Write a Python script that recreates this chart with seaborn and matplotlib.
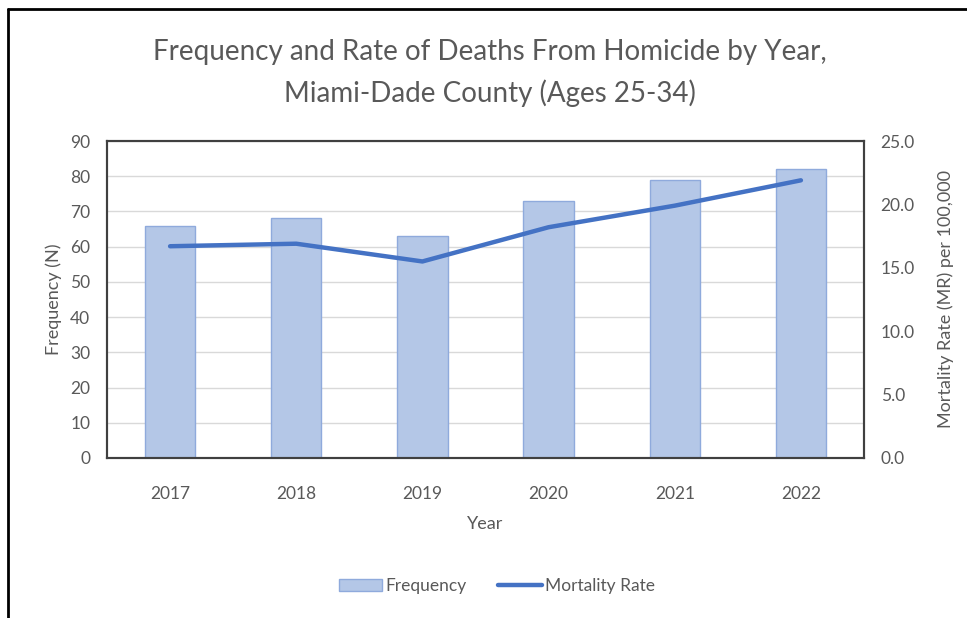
import matplotlib
matplotlib.use("Agg")
import matplotlib.pyplot as plt
import seaborn as sns
import pandas as pd
from matplotlib.patches import Patch
from matplotlib.lines import Line2D

years = ["2017", "2018", "2019", "2020", "2021", "2022"]
frequency = [66, 68, 63, 73, 79, 82]
mortality_rate = [16.7, 16.9, 15.5, 18.2, 19.9, 21.9]
left_ticks = [0, 10, 20, 30, 40, 50, 60, 70, 80, 90]
right_ticks = [0.0, 5.0, 10.0, 15.0, 20.0, 25.0]

title = "Frequency and Rate of Deaths From Homicide by Year,\nMiami-Dade County (Ages 25-34)"

sns.set_theme(style="white")
plt.rcParams["font.family"] = ["Lato", "DejaVu Sans"]

TEXT = "#595959"
BAR = "#B4C7E7"
BAR_EDGE = "#8FAADC"
LINE = "#4472C4"

df = pd.DataFrame({"Year": years, "Frequency": frequency, "Rate": mortality_rate})

fig = plt.figure(figsize=(9.67, 6.18), dpi=100)
ax = fig.add_axes([107 / 967, 1 - 458 / 618, (864 - 107) / 967, (458 - 141) / 618])

sns.barplot(data=df, x="Year", y="Frequency", ax=ax, color=BAR, edgecolor=BAR_EDGE,
            linewidth=1, width=0.4, saturation=1, zorder=2)
ax.set_ylim(0, 90)
ax.set_yticks(left_ticks)
ax.yaxis.grid(True, color="#D9D9D9", linewidth=1)
ax.set_axisbelow(True)

ax2 = ax.twinx()
sns.pointplot(data=df, x="Year", y="Rate", ax=ax2, color=LINE, markers="",
              linewidth=3.2, errorbar=None)
ax2.set_ylim(0, 25)
ax2.set_yticks(right_ticks)
ax2.set_yticklabels([f"{v:.1f}" for v in right_ticks])
ax.set_xlim(-0.5, 5.5)

for a in (ax, ax2):
    for s in a.spines.values():
        s.set_color("#404040")
        s.set_linewidth(1.5)
    a.tick_params(axis="y", length=0, labelsize=12.5, colors=TEXT, pad=12)
    a.tick_params(axis="x", length=0, labelsize=12.5, colors=TEXT, pad=20)

ax.set_xlabel("Year", fontsize=13, color=TEXT, labelpad=10)
ax.set_ylabel("Frequency (N)", fontsize=13, color=TEXT, labelpad=6)
ax2.set_ylabel("Mortality Rate (MR) per 100,000", fontsize=13, color=TEXT, labelpad=16)
ax2.grid(False)

fig.text(490 / 967, 1 - 73 / 618, title, ha="center", va="center", fontsize=20,
         color=TEXT, linespacing=1.6)

handles = [Patch(facecolor=BAR, edgecolor=BAR_EDGE, label="Frequency"),
           Line2D([0], [0], color=LINE, linewidth=3.2, label="Mortality Rate")]
leg = fig.legend(handles=handles, loc="center", bbox_to_anchor=(497 / 967, 1 - 586 / 618),
                 ncol=2, frameon=False, fontsize=12.5, handlelength=2.5, handletextpad=0.2,
                 columnspacing=1.8)
for t in leg.get_texts():
    t.set_color(TEXT)

# outer frame (top and left edges)
fig.add_artist(Line2D([8 / 967, 1], [1 - 9 / 618, 1 - 9 / 618], color="black", linewidth=2,
                      transform=fig.transFigure))
fig.add_artist(Line2D([8 / 967, 8 / 967], [0, 1 - 9 / 618], color="black", linewidth=2,
                      transform=fig.transFigure))

fig.savefig("out.png", dpi=100)
